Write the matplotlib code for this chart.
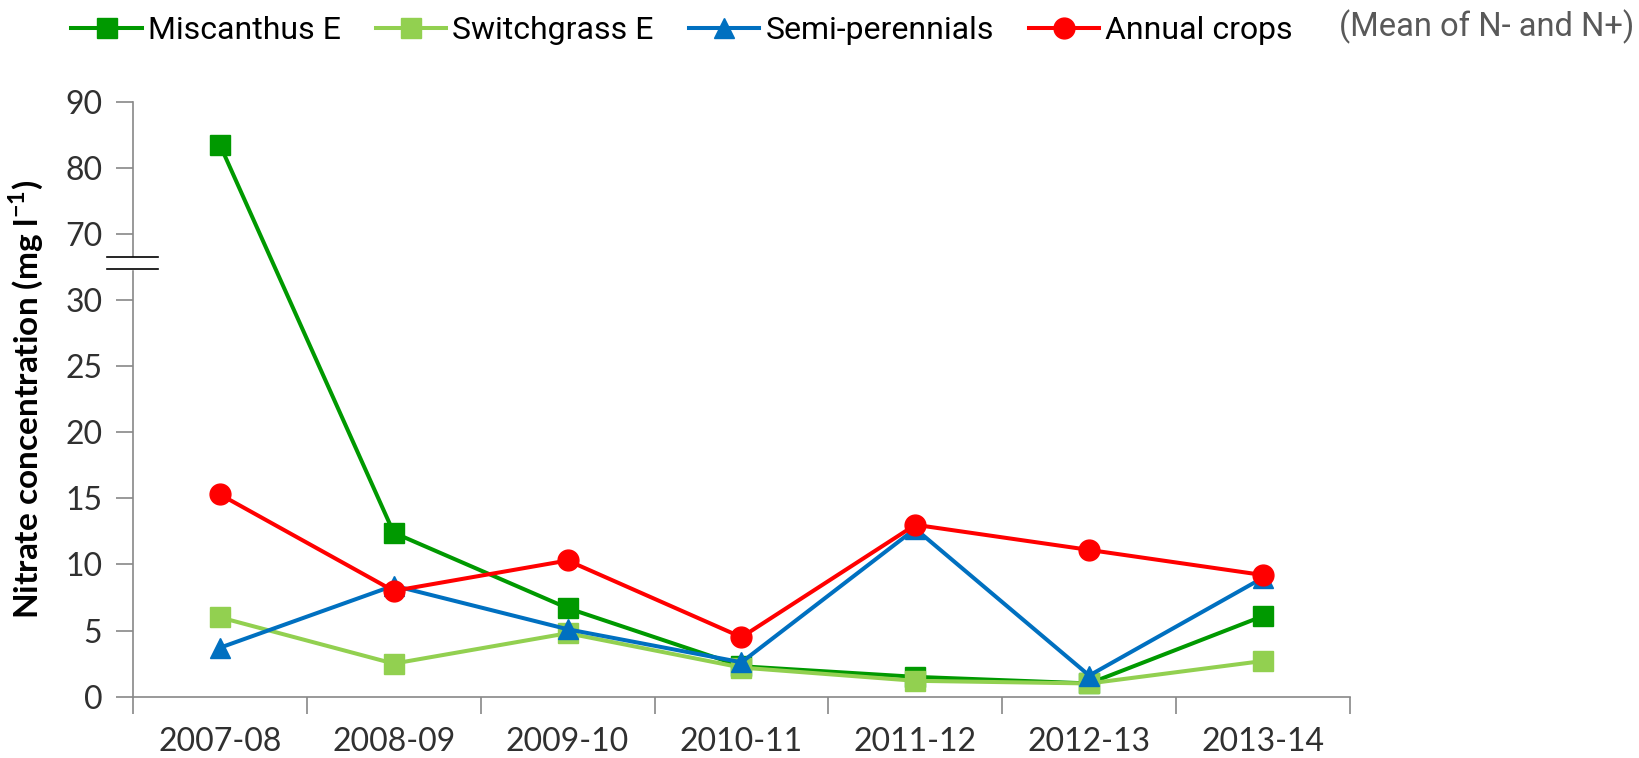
"""Nitrate concentration per season, broken y axis (0-30 / 70-90)."""

import numpy as np
import matplotlib
matplotlib.use('Agg')
import matplotlib.pyplot as plt

seasons = ['2007-08', '2008-09', '2009-10', '2010-11', '2011-12', '2012-13', '2013-14']
miscanthus = [83.5, 12.4, 6.7, 2.3, 1.5, 1.0, 6.1]
switchgrass = [6.0, 2.5, 4.8, 2.2, 1.2, 1.0, 2.7]
semi_perennials = [3.7, 8.4, 5.1, 2.6, 12.7, 1.6, 9.0]
annual_crops = [15.3, 8.0, 10.3, 4.5, 13.0, 11.1, 9.2]

y_ticks = [0, 5, 10, 15, 20, 25, 30, 70, 80, 90]


# broken axis: 0-30 linear, 30-70 squeezed, 70-90 at half scale
def fwd(y):
    y = np.asarray(y, dtype=float)
    return np.where(y <= 30, y, np.where(y >= 70, 35 + (y - 70) / 2, 30 + (y - 30) / 8))


def inv(p):
    p = np.asarray(p, dtype=float)
    return np.where(p <= 30, p, np.where(p >= 35, 70 + (p - 35) * 2, 30 + (p - 30) * 8))


tick_font = ['Lato', 'DejaVu Sans']
legend_font = ['Roboto', 'DejaVu Sans']

fig = plt.figure(figsize=(16.39, 7.58), dpi=100)
ax = fig.add_axes([0.0811, 0.0809, 0.7426, 0.7849])
ax.set_yscale('function', functions=(fwd, inv))

x = np.arange(len(seasons))
ax.plot(x, miscanthus, color='#009900', lw=2.9, marker='s', ms=14, label='Miscanthus E')
ax.plot(x, switchgrass, color='#92D050', lw=2.9, marker='s', ms=14, label='Switchgrass E')
ax.plot(x, semi_perennials, color='#0070C0', lw=2.9, marker='^', ms=14, label='Semi-perennials')
ax.plot(x, annual_crops, color='#FF0000', lw=2.9, marker='o', ms=15, label='Annual crops')

ax.set_xlim(-0.5, len(seasons) - 0.5)
ax.set_ylim(0, 90)
ax.set_yticks(y_ticks)
ax.set_yticklabels([str(t) for t in y_ticks])
ax.set_xticks(x)
ax.set_xticklabels(seasons)
ax.set_xticks(np.arange(len(seasons) + 1) - 0.5, minor=True)
ax.tick_params(axis='x', which='major', length=0, pad=22)
ax.tick_params(axis='x', which='minor', length=12, width=1.2, color='#888888', direction='out')
ax.tick_params(axis='y', length=12, width=1.2, color='#888888', direction='out', pad=10)
for lab in ax.get_xticklabels() + ax.get_yticklabels():
    lab.set_family(tick_font)
    lab.set_fontsize(23)
    lab.set_color('#303030')

for s in ['top', 'right']:
    ax.spines[s].set_visible(False)
for s in ['left', 'bottom']:
    ax.spines[s].set_color('#888888')
    ax.spines[s].set_linewidth(1.2)

ax.set_ylabel(r'Nitrate concentration (mg l$^{\mathregular{-1}}$)', fontsize=24,
              fontweight='bold', family=tick_font)
ax.yaxis.set_label_coords(-0.072, 0.5)

# break marks on the y axis
ytr = ax.get_yaxis_transform()
b_lo, b_hi = inv(32.35), inv(33.25)
ax.fill_between([-0.01, 0.01], [b_lo, b_lo], [b_hi, b_hi], color='white',
                transform=ytr, clip_on=False, zorder=5)
for b in (b_lo, b_hi):
    ax.plot([-0.021, 0.021], [b, b], color='black', lw=1.2, transform=ytr,
            clip_on=False, zorder=6)

leg = fig.legend(loc='upper left', bbox_to_anchor=(0.026, 1.017), ncol=4, frameon=False,
                 handlelength=2.2, handletextpad=0.2, columnspacing=1.09,
                 prop={'family': legend_font, 'size': 23})
fig.text(0.997, 0.965, '(Mean of N- and N+)', ha='right', va='center',
         fontsize=23.5, color='#595959', family=legend_font)

fig.savefig('out.png', dpi=100)
